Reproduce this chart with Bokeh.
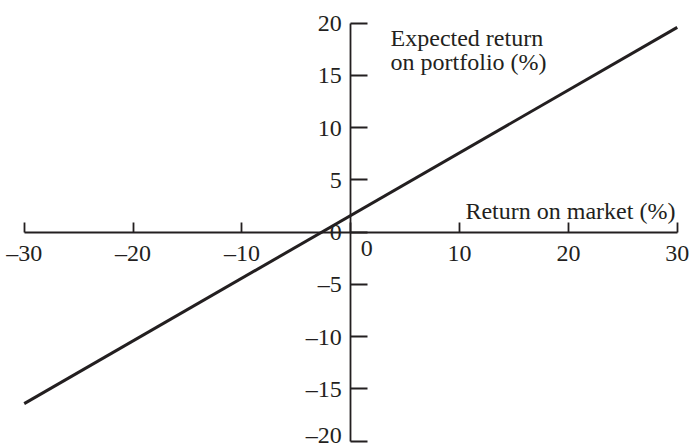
from bokeh.plotting import figure
from bokeh.models import LinearAxis, FixedTicker, Range1d, Label
from bokeh.embed import file_html
from bokeh.resources import INLINE

# data
x_ticks = [-30, -20, -10, 0, 10, 20, 30]
y_ticks = [-20, -15, -10, -5, 0, 5, 10, 15, 20]
x_tick_labels = {-30: "\u201330", -20: "\u201320", -10: "\u201310", 0: "", 10: "10", 20: "20", 30: "30"}
y_tick_labels = {-20: "\u201320", -15: "\u201315", -10: "\u201310", -5: "\u20135", 0: "0",
                 5: "5", 10: "10", 15: "15", 20: "20"}
market_return = [-30, 30]
portfolio_return = [-16.4, 19.6]

FONT = "Liberation Serif"
FS = "24px"
INK = "#231f20"

p = figure(width=691, height=447,
           x_range=Range1d(-32.18, 31.31), y_range=Range1d(-20.6, 22.17),
           output_backend="svg", toolbar_location=None,
           x_axis_location=None, y_axis_location=None, min_border=0)
p.grid.visible = False
p.outline_line_color = None
p.background_fill_color = "white"

xaxis = LinearAxis(fixed_location=0, ticker=FixedTicker(ticks=x_ticks),
                   bounds=(-30, 30),
                   major_tick_in=10, major_tick_out=0,
                   minor_tick_in=0, minor_tick_out=0,
                   major_label_overrides=x_tick_labels,
                   major_label_standoff=8,
                   major_label_text_font=FONT, major_label_text_font_size=FS,
                   major_label_text_color=INK,
                   axis_line_color=INK, axis_line_width=1.8,
                   major_tick_line_color=INK, major_tick_line_width=1.8)
p.add_layout(xaxis, "below")

yaxis = LinearAxis(fixed_location=0, ticker=FixedTicker(ticks=y_ticks),
                   bounds=(-20, 20),
                   major_tick_in=17, major_tick_out=0,
                   minor_tick_in=0, minor_tick_out=0,
                   major_label_overrides=y_tick_labels,
                   major_label_standoff=9,
                   major_label_text_font=FONT, major_label_text_font_size=FS,
                   major_label_text_color=INK,
                   axis_line_color=INK, axis_line_width=1.8,
                   major_tick_line_color=INK, major_tick_line_width=1.8)
p.add_layout(yaxis, "left")

p.line(market_return, portfolio_return, line_color=INK, line_width=3)

def lab(x, y, text, align="left", xo=0, yo=0, baseline="alphabetic"):
    p.add_layout(Label(x=x, y=y, text=text, text_align=align, text_baseline=baseline,
                       x_offset=xo, y_offset=yo,
                       text_font=FONT, text_font_size=FS, text_color=INK))

lab(0, 0, "0", align="center", xo=16, yo=-9, baseline="top")
lab(3.66, 18.56, "Expected return")
lab(3.66, 16.27, "on portfolio (%)")
lab(29.83, 2.0, "Return on market (%)", align="right")

open("out.html", "w").write(file_html(p, INLINE))
